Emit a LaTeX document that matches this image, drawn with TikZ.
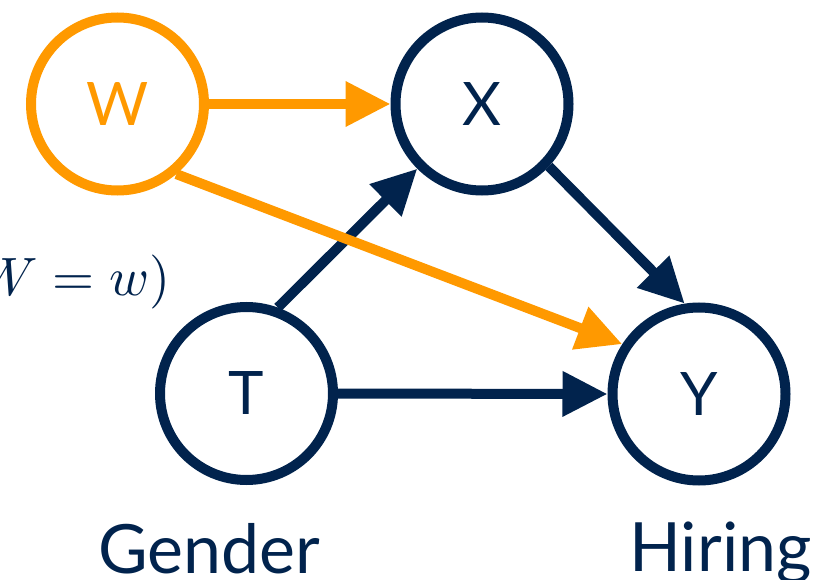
\documentclass[tikz,border=0pt]{standalone}
\usepackage[no-math]{fontspec}
\setmainfont{Lato}
\usetikzlibrary{arrows.meta}
\definecolor{navy}{RGB}{1,35,77}
\definecolor{orng}{RGB}{255,153,0}
\begin{document}
\begin{tikzpicture}[x=1pt,y=-1pt,
  vnode/.style={circle,draw=navy,line width=10pt,minimum size=173pt,inner sep=0pt,
    text=navy,font=\fontsize{60}{60}\selectfont},
  onode/.style={vnode,draw=orng,text=orng},
  carrow/.style={line width=10pt,draw=navy,-{Triangle[length=45pt,width=43pt]}},
  oarrow/.style={carrow,draw=orng},
  lbl/.style={text=navy,font=\fontsize{68}{68}\selectfont,inner sep=0pt,anchor=base}]
\useasboundingbox (0,0) rectangle (819,580);
\clip (0,0) rectangle (819,580);
\node[onode] (W) at (117.5,104) {W};
\node[vnode] (X) at (482,104) {X};
\node[vnode] (T) at (246.5,393.5) {T};
\node[vnode] (Y) at (699,394) {Y};
\node[lbl] (gender) at (209,573) {Gender};
\node[lbl] (hiring) at (720.5,571) {Hiring};
\node[text=navy,inner sep=0pt,anchor=base east] (cond) at (171,295) {\scalebox{5.4}{$W = w)$}};
\draw[carrow] (T.70) -- (X.225);
\draw[carrow] (X.-43) -- (Y.99);
\draw[carrow] (T.east) -- (Y.west);
\draw[oarrow] (W.east) -- (X.west);
\draw[oarrow] (W.-50) -- (Y.147);
\end{tikzpicture}
\end{document}
